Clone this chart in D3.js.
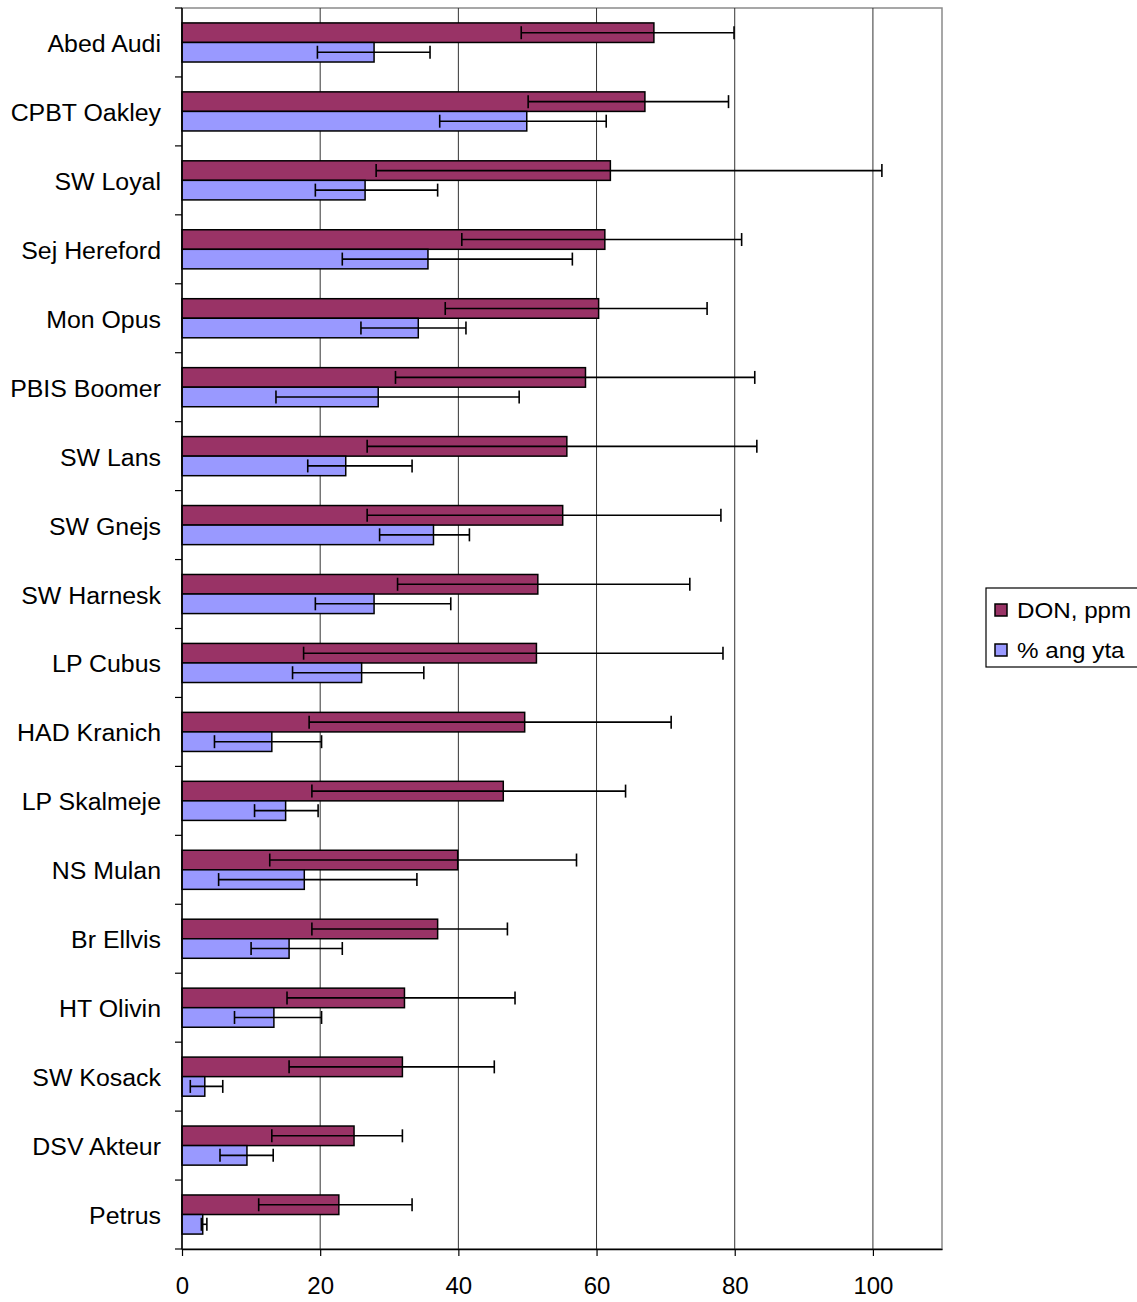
<!DOCTYPE html>
<html>
<head>
<meta charset="utf-8">
<script src="https://cdn.jsdelivr.net/npm/d3@7"></script>
<style>
  body { margin: 0; background: #fff; }
  svg { display: block; font-family: "Liberation Sans", Arial, sans-serif; }
</style>
</head>
<body>
<svg id="chart" width="1137" height="1302"></svg>
<script>
var categories = ['Abed Audi', 'CPBT Oakley', 'SW Loyal', 'Sej Hereford', 'Mon Opus',
  'PBIS Boomer', 'SW Lans', 'SW Gnejs', 'SW Harnesk', 'LP Cubus', 'HAD Kranich',
  'LP Skalmeje', 'NS Mulan', 'Br Ellvis', 'HT Olivin', 'SW Kosack', 'DSV Akteur', 'Petrus'];

var seriesNames = ['DON, ppm', '% ang yta'];

var donValues = [68.3, 67.0, 62.0, 61.2, 60.3, 58.4, 55.7, 55.1, 51.5, 51.3, 49.6, 46.5, 39.9, 37.0, 32.2, 31.9, 24.9, 22.7];
var donLow    = [49.1, 50.1, 28.1, 40.5, 38.1, 30.9, 26.8, 26.8, 31.2, 17.6, 18.4, 18.8, 12.7, 18.8, 15.2, 15.5, 13.0, 11.1];
var donHigh   = [79.9, 79.1, 101.3, 81.0, 76.0, 82.9, 83.2, 78.0, 73.5, 78.3, 70.8, 64.2, 57.1, 47.1, 48.2, 45.2, 31.9, 33.3];

var angValues = [27.8, 49.9, 26.5, 35.6, 34.2, 28.4, 23.7, 36.4, 27.8, 26.0, 13.0, 15.0, 17.7, 15.5, 13.3, 3.3, 9.4, 3.0];
var angLow    = [19.6, 37.3, 19.3, 23.2, 25.9, 13.6, 18.2, 28.6, 19.3, 16.0, 4.7, 10.5, 5.3, 10.0, 7.6, 1.2, 5.5, 2.8];
var angHigh   = [35.9, 61.4, 37.0, 56.5, 41.1, 48.8, 33.3, 41.6, 38.9, 35.0, 20.2, 19.7, 34.0, 23.2, 20.2, 5.9, 13.2, 3.6];

var xTicks = [0, 20, 40, 60, 80, 100];

var colors = ['#993366', '#9999ff'];

var svg = d3.select('#chart');
var plotLeft = 182, plotRight = 942, plotTop = 8, plotBottom = 1249;

var x = d3.scaleLinear().domain([0, 110]).range([plotLeft, plotRight]);
var y = d3.scaleBand().domain(categories).range([plotTop, plotBottom])
  .paddingInner(0.433).paddingOuter(0.2165);
var ySub = d3.scaleBand().domain(seriesNames).range([0, y.bandwidth()]);

// rows: one per category with both series
var rows = categories.map(function(c, i) {
  return {
    name: c,
    series: [
      { key: seriesNames[0], value: donValues[i], low: donLow[i], high: donHigh[i], color: colors[0] },
      { key: seriesNames[1], value: angValues[i], low: angLow[i], high: angHigh[i], color: colors[1] }
    ]
  };
});

// plot frame + grid
svg.append('rect')
  .attr('x', plotLeft).attr('y', plotTop)
  .attr('width', plotRight - plotLeft).attr('height', plotBottom - plotTop)
  .attr('fill', 'none').attr('stroke', '#8a8a8a').attr('stroke-width', 1.5);

svg.append('g').selectAll('line')
  .data(xTicks.slice(1))
  .join('line')
  .attr('x1', function(d) { return x(d); })
  .attr('x2', function(d) { return x(d); })
  .attr('y1', plotTop).attr('y2', plotBottom)
  .attr('stroke', '#333').attr('stroke-width', 1);

// bars
var groups = svg.append('g').selectAll('g')
  .data(rows)
  .join('g')
  .attr('transform', function(d) { return 'translate(0,' + y(d.name) + ')'; });

groups.selectAll('rect')
  .data(function(d) { return d.series; })
  .join('rect')
  .attr('x', x(0))
  .attr('y', function(d) { return ySub(d.key); })
  .attr('width', function(d) { return x(d.value) - x(0); })
  .attr('height', ySub.bandwidth())
  .attr('fill', function(d) { return d.color; })
  .attr('stroke', '#000').attr('stroke-width', 1.5);

// error bars
var err = groups.selectAll('g.err')
  .data(function(d) { return d.series; })
  .join('g')
  .attr('class', 'err')
  .attr('transform', function(d) { return 'translate(0,' + (ySub(d.key) + ySub.bandwidth() / 2) + ')'; });

err.append('line')
  .attr('x1', function(d) { return x(d.low); })
  .attr('x2', function(d) { return x(d.high); })
  .attr('stroke', '#000').attr('stroke-width', 1.6);
err.append('line')
  .attr('x1', function(d) { return x(d.low); })
  .attr('x2', function(d) { return x(d.low); })
  .attr('y1', -6.5).attr('y2', 6.5)
  .attr('stroke', '#000').attr('stroke-width', 1.6);
err.append('line')
  .attr('x1', function(d) { return x(d.high); })
  .attr('x2', function(d) { return x(d.high); })
  .attr('y1', -6.5).attr('y2', 6.5)
  .attr('stroke', '#000').attr('stroke-width', 1.6);

// x axis
var xAxis = svg.append('g')
  .attr('transform', 'translate(0,' + plotBottom + ')')
  .call(d3.axisBottom(x).tickValues(xTicks).tickSize(7).tickPadding(21).tickSizeOuter(0));
xAxis.select('.domain').attr('stroke', '#000').attr('stroke-width', 1.5);
xAxis.selectAll('.tick line').attr('stroke', '#000').attr('stroke-width', 1.2);
xAxis.selectAll('.tick text')
  .attr('fill', '#000')
  .style('font-size', '24px')
  .style('font-family', '"Liberation Sans", Arial, sans-serif');

// y axis: ticks at category boundaries
svg.append('line')
  .attr('x1', plotLeft).attr('x2', plotLeft).attr('y1', plotTop).attr('y2', plotBottom)
  .attr('stroke', '#000').attr('stroke-width', 1.5);

var boundaries = categories.map(function(c) { return y(c) - y.step() * y.paddingInner() / 2; });
boundaries.push(plotBottom);
svg.append('g').selectAll('line')
  .data(boundaries)
  .join('line')
  .attr('x1', plotLeft - 7).attr('x2', plotLeft)
  .attr('y1', function(d) { return d; }).attr('y2', function(d) { return d; })
  .attr('stroke', '#000').attr('stroke-width', 1.2);

svg.append('g').selectAll('text')
  .data(categories)
  .join('text')
  .attr('transform', function(d) {
    return 'translate(161,' + (y(d) + y.bandwidth() / 2 + 9.5) + ') scale(1.06,1)';
  })
  .attr('text-anchor', 'end')
  .style('font-size', '23.5px')
  .text(function(d) { return d; });

// legend
var legend = svg.append('g').attr('transform', 'translate(986,588)');
legend.append('rect')
  .attr('width', 152).attr('height', 79)
  .attr('fill', '#fff').attr('stroke', '#000').attr('stroke-width', 1.2);

var items = legend.selectAll('g.item')
  .data(seriesNames)
  .join('g')
  .attr('class', 'item')
  .attr('transform', function(d, i) { return 'translate(0,' + (22 + i * 40) + ')'; });

items.append('rect')
  .attr('x', 9).attr('y', -6)
  .attr('width', 12).attr('height', 12)
  .attr('fill', function(d, i) { return colors[i]; })
  .attr('stroke', '#000').attr('stroke-width', 1.5);

items.append('text')
  .attr('transform', 'translate(31,8) scale(1.1,1)')
  .style('font-size', '22px')
  .text(function(d) { return d; });
</script>
</body>
</html>
